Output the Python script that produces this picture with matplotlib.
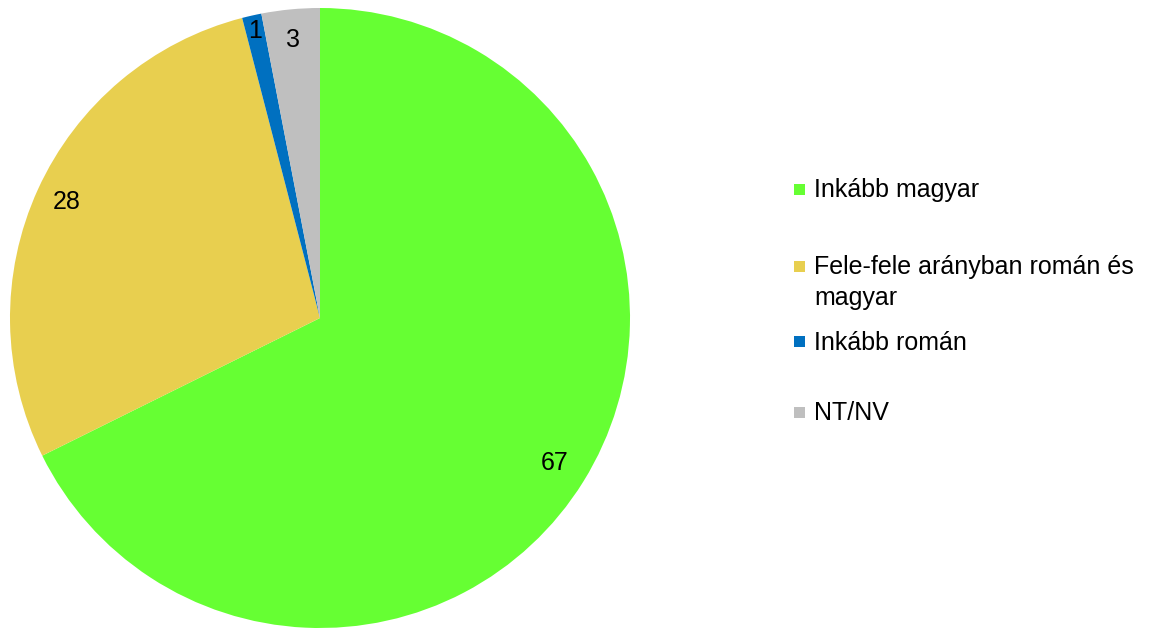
import matplotlib.pyplot as plt
import numpy as np

# ─────────────────────────────────────────
# Data
# ─────────────────────────────────────────
categories = ["Inkább magyar", "Fele-fele arányban román és\nmagyar",
              "Inkább román", "NT/NV"]
values = [67, 28, 1, 3]
colors = ["#66FF33", "#E8CF4F", "#0070C0", "#BFBFBF"]

plt.rcParams.update({
    "font.family": ["Liberation Sans", "DejaVu Sans"],
    "font.size": 18,
})

W, H = 1163, 628
fig = plt.figure(figsize=(W / 100, H / 100), dpi=100)
fig.patch.set_facecolor("white")

# pie area: centre (320, 318) px, radius 310 px
ax = fig.add_axes([10 / W, 0, 620 / W, 620 / H])
wedges, _ = ax.pie(values, colors=colors, startangle=90, counterclock=False,
                   radius=1.0, wedgeprops=dict(linewidth=0))
ax.set_xlim(-1, 1)
ax.set_ylim(-1, 1)
ax.set_aspect("equal")
ax.axis("off")

# data labels inside the slices, near the rim
label_r = [0.89, 0.90, 0.95, 0.90]
for w, v, r in zip(wedges, values, label_r):
    ang = np.deg2rad((w.theta1 + w.theta2) / 2)
    ax.text(r * np.cos(ang), r * np.sin(ang), str(v),
            ha="center", va="center", fontsize=18, color="black")

# legend (drawn by hand to match the spacing of the original)
LINE_PX = 30
leg_y = [189, 266, 341, 412]   # pixel rows (centre) of first text line
for w, lab, y in zip(wedges, categories, leg_y):
    fig.patches.append(plt.Rectangle((794 / W, (H - y - 6) / H), 11 / W, 11 / H,
                                     transform=fig.transFigure,
                                     facecolor=w.get_facecolor(), edgecolor="none"))
    # baseline alignment uses the last line, so shift down for wrapped labels
    n_extra = lab.count("\n")
    fig.text(814 / W, (H - y - 8.5 - n_extra * LINE_PX) / H, lab,
             ha="left", va="baseline", fontsize=18, linespacing=1.36,
             color="black")

plt.savefig("out.png", dpi=100, facecolor="white")
